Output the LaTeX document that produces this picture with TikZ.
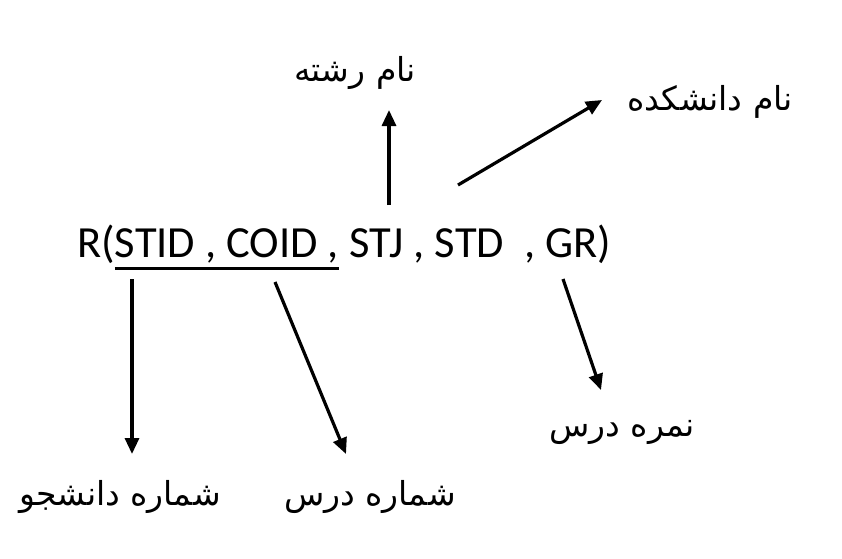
\documentclass[tikz,border=0pt]{standalone}
\usepackage{fontspec}
\setmainfont{Carlito}
\newfontfamily\arabicfont[Script=Arabic]{DejaVu Sans}
\TeXXeTstate=1
\usetikzlibrary{arrows.meta}
\newcommand\thickul[1]{\setbox0\hbox{#1}\rlap{\rule[-13pt]{\wd0}{2.6pt}}\box0\relax}
\begin{document}
\begin{tikzpicture}[x=1pt,y=-1pt,
  lbl/.style={font=\fontsize{33}{38}\selectfont\arabicfont, inner sep=0pt},
  arr/.style={line width=3.2pt, -{Triangle[length=16pt,width=14pt]}}]
\useasboundingbox (0,0) rectangle (842,558);
\node[anchor=base west, inner sep=0pt, font=\fontsize{44.5}{50}\selectfont] (rel) at (77,257)
  {R(\thickul{STID , COID ,} STJ , STD \ , GR)};
\node[lbl] (major) at (355,73) {\beginR نام رشته\endR};
\node[lbl] (fac) at (710,102) {\beginR نام دانشکده\endR};
\node[lbl] (stno) at (120,497) {\beginR شماره دانشجو\endR};
\node[lbl] (cono) at (370,497) {\beginR شماره درس\endR};
\node[lbl] (grade) at (622,432) {\beginR نمره درس\endR};
\coordinate (a1s) at (389,205); \coordinate (a1e) at (389,110);
\coordinate (a2s) at (458,185); \coordinate (a2e) at (602,100);
\coordinate (a3s) at (132,279); \coordinate (a3e) at (132,454);
\coordinate (a4s) at (275,282); \coordinate (a4e) at (346,454);
\coordinate (a5s) at (563,279); \coordinate (a5e) at (601,390);
\draw[arr] (a1s) -- (a1e);
\draw[arr] (a2s) -- (a2e);
\draw[arr] (a3s) -- (a3e);
\draw[arr] (a4s) -- (a4e);
\draw[arr] (a5s) -- (a5e);
\end{tikzpicture}
\end{document}
